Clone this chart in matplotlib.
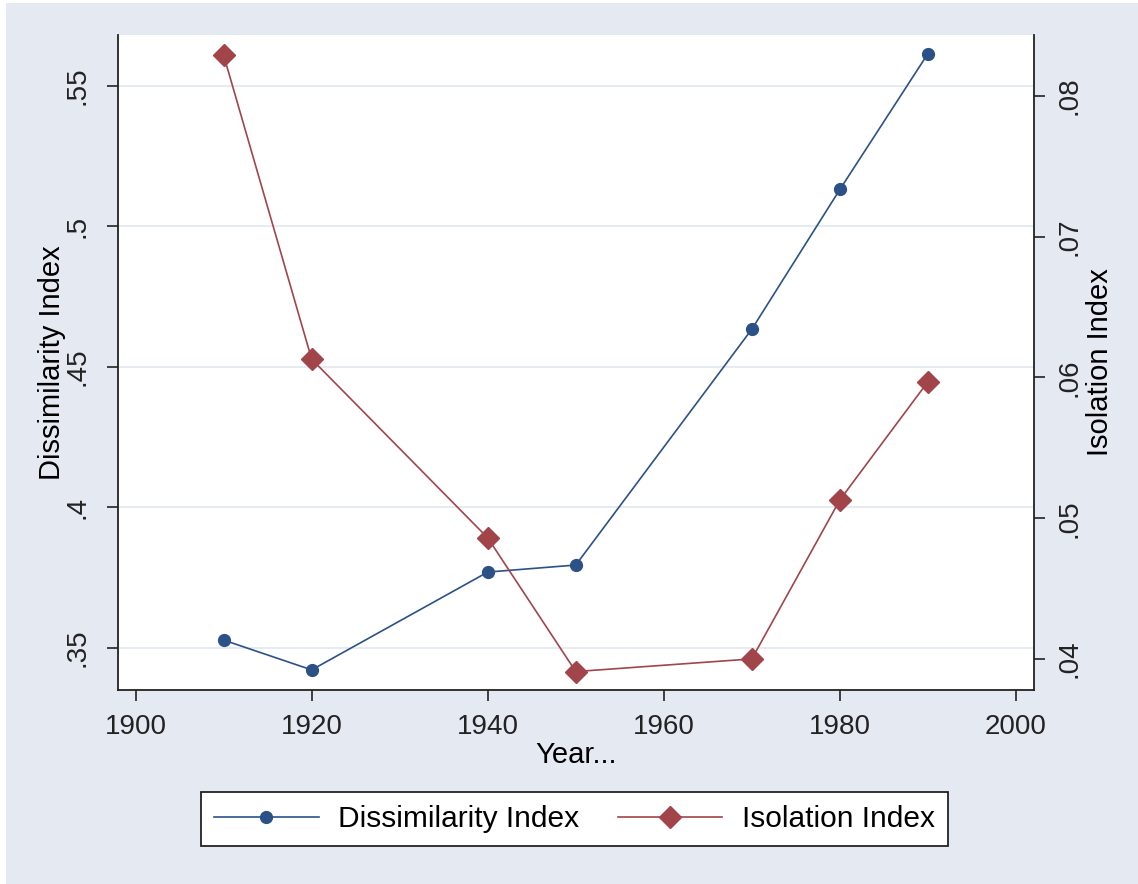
import matplotlib
matplotlib.use("Agg")
import matplotlib.pyplot as plt
from matplotlib.ticker import FuncFormatter

# values
years = [1910, 1920, 1940, 1950, 1970, 1980, 1990]
dissimilarity = [0.3528, 0.3422, 0.3770, 0.3795, 0.4634, 0.5131, 0.5614]
isolation = [0.0829, 0.0613, 0.0486, 0.0391, 0.0400, 0.0513, 0.0597]

left_ticks = [0.35, 0.40, 0.45, 0.50, 0.55]
right_ticks = [0.04, 0.05, 0.06, 0.07, 0.08]
x_ticks = [1900, 1920, 1940, 1960, 1980, 2000]

BG = "#E5E9F2"
GRID = "#E2E7EF"
BLUE = "#2B5187"
RED = "#A1454A"

plt.rcParams['font.family'] = ['Liberation Sans Narrow', 'Liberation Sans', 'DejaVu Sans']


def stata_fmt(v, pos):
    s = ("%g" % round(v, 4))
    if s.startswith("0."):
        s = s[1:]
    return s


fig = plt.figure(figsize=(11.38, 8.84), dpi=100)
fig.patch.set_facecolor("white")
# bluish outer region with a thin white margin at left/top
fig.patches.append(plt.Rectangle((6 / 1138, 0), 1 - 6 / 1138, 1 - 3 / 884,
                                 transform=fig.transFigure, facecolor=BG,
                                 edgecolor="none", zorder=-10))

ax = fig.add_axes([118 / 1138, 1 - 690 / 884, (1034 - 118) / 1138, (690 - 35) / 884])
ax.set_facecolor("white")
ax2 = ax.twinx()

l1, = ax.plot(years, dissimilarity, color=BLUE, lw=1.2, marker="o", ms=8.5,
              mec=BLUE, mfc=BLUE, label="Dissimilarity Index", zorder=3)
l2, = ax2.plot(years, isolation, color=RED, lw=1.2, marker="D", ms=11,
               mec=RED, mfc=RED, label="Isolation Index", zorder=3)

ax.set_xlim(1898, 2002.05)
ax.set_ylim(0.33505, 0.56804)
ax2.set_ylim(0.03779, 0.08434)

ax.set_xticks(x_ticks)
ax.set_yticks(left_ticks)
ax2.set_yticks(right_ticks)
ax.yaxis.set_major_formatter(FuncFormatter(stata_fmt))
ax2.yaxis.set_major_formatter(FuncFormatter(stata_fmt))

ax.grid(axis="y", color=GRID, lw=1.2)
ax.set_axisbelow(True)

for a in (ax, ax2):
    a.spines["top"].set_visible(False)
    for s in ("left", "right", "bottom"):
        a.spines[s].set_linewidth(1.3)
        a.spines[s].set_color("#222222")
    a.tick_params(direction="out", length=8, width=1.2, colors="#222222",
                  labelsize=20)
ax.spines["right"].set_visible(False)
ax2.spines["left"].set_visible(False)
ax2.spines["bottom"].set_visible(False)

ax.tick_params(axis="x", pad=9)
ax.tick_params(axis="y", pad=11.5)
ax2.tick_params(axis="y", pad=8.5)
for lab in ax.get_yticklabels() + ax2.get_yticklabels():
    lab.set_rotation(90)
    lab.set_va("center")

ax.set_xlabel("Year...", fontsize=21, labelpad=1)
ax.set_ylabel("Dissimilarity Index", fontsize=21)
ax2.set_ylabel("Isolation Index", fontsize=21, rotation=90)
ax.yaxis.set_label_coords(-(118 - 66) / 916, 0.5)
ax2.yaxis.set_label_coords(1 + (1086 - 1034) / 916, 0.5)

leg = fig.legend(handles=[l1, l2], loc="center", ncol=2,
                 bbox_to_anchor=(574.5 / 1138, 1 - 819 / 884),
                 fontsize=21.5, frameon=True, fancybox=False, edgecolor="#222222",
                 facecolor="white", framealpha=1, handlelength=3.5,
                 handletextpad=0.65, columnspacing=1.3, borderpad=0.45)
leg.get_frame().set_linewidth(1.3)

fig.savefig("out.png", dpi=100, facecolor=fig.get_facecolor())
